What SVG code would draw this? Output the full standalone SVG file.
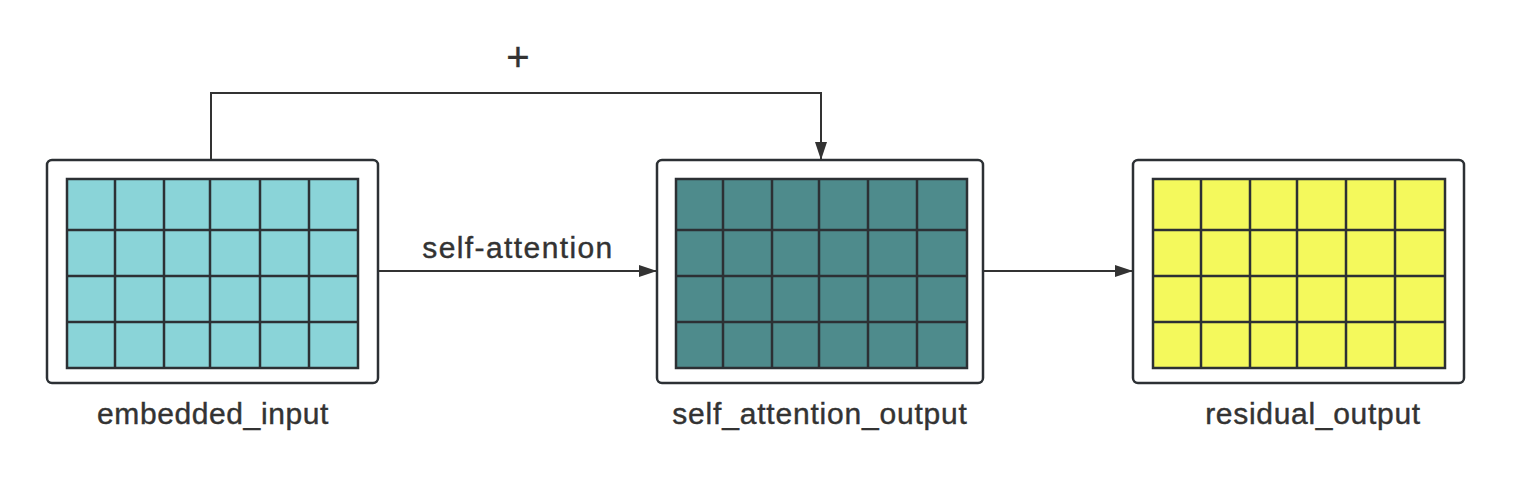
<svg xmlns="http://www.w3.org/2000/svg" width="1524" height="484" viewBox="0 0 1524 484">
<style>
.frame{fill:#fff;stroke:#2c3034;stroke-width:2.5}
.grid{stroke:#2c3034;stroke-width:2.5}
.c1{fill:#8AD4D8}
.c2{fill:#4E8B8C}
.c3{fill:#F4F95C}
.lbl{font-family:"Liberation Sans",Arial,sans-serif;font-size:30px;fill:#333;text-anchor:middle;stroke:#333;stroke-width:0.4}
.conn{fill:none;stroke:#333;stroke-width:2}
</style>
<defs>
<marker id="ah" markerWidth="18" markerHeight="12" refX="17" refY="6" orient="auto" markerUnits="userSpaceOnUse">
<path d="M0,0 L18,6 L0,12 Z" fill="#333"/>
</marker>
</defs>
<rect width="1524" height="484" fill="#fff"/>
<g id="embedded_input">
<rect class="frame" x="47" y="160" width="331" height="223" rx="5"/>
<rect class="c1 grid" x="67" y="179" width="291" height="189"/>
<path class="grid" d="M115,179V368M164,179V368M210,179V368M260,179V368M309,179V368M67,230H358M67,276H358M67,322H358"/>
<text class="lbl" x="213" y="424" letter-spacing="0.6">embedded_input</text>
</g>
<g id="self_attention_output">
<rect class="frame" x="657" y="160" width="326" height="223" rx="5"/>
<rect class="c2 grid" x="676" y="179" width="291" height="189"/>
<path class="grid" d="M723,179V368M772,179V368M819,179V368M868,179V368M917,179V368M676,230H967M676,276H967M676,322H967"/>
<text class="lbl" x="820" y="424" letter-spacing="0.8">self_attention_output</text>
</g>
<g id="residual_output">
<rect class="frame" x="1133" y="160" width="331" height="223" rx="5"/>
<rect class="c3 grid" x="1153" y="179" width="292" height="189"/>
<path class="grid" d="M1201,179V368M1250,179V368M1297,179V368M1346,179V368M1395,179V368M1153,230H1445M1153,276H1445M1153,322H1445"/>
<text class="lbl" x="1313" y="424" letter-spacing="0.7">residual_output</text>
</g>
<g id="connectors">
<path class="conn" d="M211,159V93H821V159" marker-end="url(#ah)"/>
<text class="lbl" x="518" y="71" style="font-size:40px">+</text>
<path class="conn" d="M379,271H656" marker-end="url(#ah)"/>
<text class="lbl" x="518" y="258" letter-spacing="1.4">self-attention</text>
<path class="conn" d="M984,271H1132" marker-end="url(#ah)"/>
</g>
</svg>
